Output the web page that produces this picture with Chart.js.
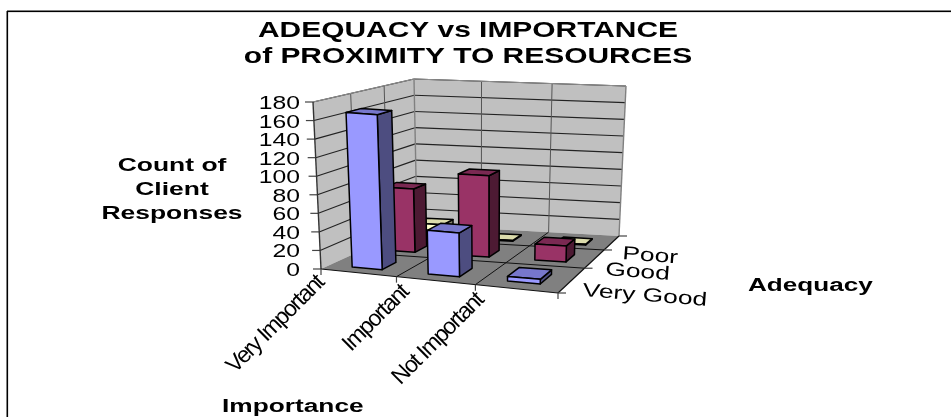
<!DOCTYPE html>
<html>
<head>
<meta charset="utf-8">
<style>
html,body{margin:0;padding:0;background:#fff;overflow:hidden}
#wrap{position:absolute;left:0;top:0;width:951px;height:417px}
</style>
<script src="https://cdn.jsdelivr.net/npm/chart.js@4"></script>
</head>
<body>
<div id="wrap"><canvas id="chart"></canvas></div>
<script>
// Survey counts: importance across the floor, adequacy going back into the chart.
const importance = ['Very Important', 'Important', 'Not Important'];
const adequacy = ['Very Good', 'Good', 'Poor'];
const veryGood = [168, 47, 5];
const good = [72, 92, 18];
const poor = [15, 1, 1];
const valueTicks = {min: 0, max: 180, step: 20};
const titleLines = ['ADEQUACY vs IMPORTANCE', 'of PROXIMITY TO RESOURCES'];
const valueTitle = ['Count of', 'Client', 'Responses'];
const importanceTitle = 'Importance';
const adequacyTitle = 'Adequacy';

const FONT = '"Liberation Sans", Arial, sans-serif';

// Screen positions of the box that holds the plot: floor corners and wall tops.
const corners = {
  floor: {fl: [321, 269], fr: [558, 293], bl: [417, 225], br: [619, 236]},
  roof:  {fl: [313, 102], fr: [560, 121], bl: [414, 79],  br: [626, 86]}
};
const mix = (a, b, t) => a + (b - a) * t;
const mix2 = (p, q, t) => [mix(p[0], q[0], t), mix(p[1], q[1], t)];
// Foreshortening along an axis: k is the near/far size ratio.
const warp = (t, k) => t <= 0 ? 0 : t >= 1 ? 1 : t / (t + k * (1 - t));

// Maps normalised plot coordinates (across, depth, height) to the canvas.
function project(u, v, w) {
  const tu = warp(u, 1.07);
  const tv = warp(v, mix(0.84, 0.65, u));
  const plane = c => mix2(mix2(c.fl, c.fr, tu), mix2(c.bl, c.br, tu), tv);
  return mix2(plane(corners.floor), plane(corners.roof), w);
}

function poly(ctx, pts, fill, stroke, lw) {
  ctx.beginPath();
  pts.forEach((p, i) => i ? ctx.lineTo(p[0], p[1]) : ctx.moveTo(p[0], p[1]));
  ctx.closePath();
  if (fill) { ctx.fillStyle = fill; ctx.fill(); }
  if (stroke) { ctx.strokeStyle = stroke; ctx.lineWidth = lw || 1; ctx.stroke(); }
}
function seg(ctx, a, b, color, lw) {
  ctx.beginPath();
  ctx.moveTo(a[0], a[1]);
  ctx.lineTo(b[0], b[1]);
  ctx.strokeStyle = color;
  ctx.lineWidth = lw || 1;
  ctx.stroke();
}
// Arial-style text widened horizontally, optionally rotated about its anchor.
function label(ctx, str, x, y, o) {
  ctx.save();
  ctx.translate(x, y);
  if (o.angle) ctx.rotate(o.angle * Math.PI / 180);
  ctx.scale(o.sx || 1, 1);
  ctx.font = (o.bold ? 'bold ' : '') + o.size + 'px ' + FONT;
  ctx.letterSpacing = (o.spacing || 0) + 'px';
  ctx.textAlign = o.align || 'left';
  ctx.textBaseline = 'alphabetic';
  ctx.fillStyle = '#000';
  ctx.fillText(str, 0, 0);
  ctx.restore();
}

// Offsets of the slanted importance labels from their ticks
const slantDx = [4, 13, 9];
const slantDy = [15, 17, 17];

// Walls, floor, grid, ticks and every caption around the plot.
const frame3d = {
  id: 'frame3d',
  beforeDatasetsDraw(chart) {
    const {ctx, scales: {x, y, z}} = chart;
    const U = v => (x.getPixelForValue(v) - x.left) / x.width;
    const V = v => (z.getPixelForValue(v) - z.left) / z.width;
    const W = v => (y.bottom - y.getPixelForValue(v)) / y.height;

    ctx.save();
    ctx.fillStyle = '#fff';
    ctx.fillRect(0, 0, chart.width, chart.height);

    // Outer frame of the chart object
    ctx.fillStyle = '#000';
    ctx.fillRect(7, 10.5, chart.width - 7, 1.6);
    ctx.fillRect(6.5, 11, 1.6, chart.height - 11);

    chart.options.plugins.title.text.forEach((t, i) =>
      label(ctx, t, 468, 37 + i * 26, {size: 22, bold: true, sx: 1.36, align: 'center'}));

    // Walls and floor
    poly(ctx, [project(0,0,0), project(0,0,1), project(0,1,1), project(0,1,0)], '#c0c0c0');
    poly(ctx, [project(0,1,0), project(0,1,1), project(1,1,1), project(1,1,0)], '#c0c0c0');
    poly(ctx, [project(0,0,0), project(1,0,0), project(1,1,0), project(0,1,0)], '#808080');

    // Horizontal value gridlines and axis ticks
    y.ticks.forEach(t => {
      const w = W(t.value);
      if (w > 0) {
        seg(ctx, project(0,0,w), project(0,1,w), '#222', 1.1);
        seg(ctx, project(0,1,w), project(1,1,w), '#222', 1.1);
      }
      const p = project(0,0,w);
      seg(ctx, p, [p[0] - 8, p[1]], '#444', 1.2);
      label(ctx, t.label, 300, p[1] + 7, {size: 19, sx: 1.3, align: 'right'});
    });

    // Gridlines at the category boundaries, on the floor and up the walls
    importance.forEach((_, i) => {
      if (i === 0) return;
      const u = U(i - 0.5);
      seg(ctx, project(u,0,0), project(u,1,0), '#111');
      seg(ctx, project(u,1,0), project(u,1,1), '#555');
    });
    adequacy.forEach((_, i) => {
      if (i === 0) return;
      const v = V(i - 0.5);
      seg(ctx, project(0,v,0), project(1,v,0), '#111');
      seg(ctx, project(0,v,0), project(0,v,1), '#555');
    });

    // Box edges
    seg(ctx, project(0,1,0), project(0,1,1), '#808080', 1.4);
    seg(ctx, project(1,1,0), project(1,1,1), '#808080', 1.4);
    seg(ctx, project(0,1,1), project(1,1,1), '#909090', 1.2);
    seg(ctx, project(0,0,1), project(0,1,1), '#909090', 1.2);
    seg(ctx, project(0,0,0), project(0,0,1), '#333', 1.4);
    seg(ctx, project(0,0,0), project(1,0,0), '#111', 1.2);
    seg(ctx, project(1,0,0), project(1,1,0), '#111', 1.2);

    // Importance ticks and slanted labels, set tight as on a squeezed axis
    x.ticks.forEach((t, i) => {
      const p = project(U(i - 0.5), 0, 0);
      seg(ctx, p, [p[0], p[1] + 6], '#444', 1.2);
      label(ctx, t.label, p[0] + slantDx[i], p[1] + slantDy[i], {size: 23, spacing: -1.6, angle: -45, align: 'right'});
    });
    seg(ctx, project(1,0,0), [project(1,0,0)[0], project(1,0,0)[1] + 6], '#444', 1.2);

    // Adequacy ticks and labels
    z.ticks.forEach((t, i) => {
      const p = project(1, V(i - 0.5), 0);
      seg(ctx, p, [p[0] + 8, p[1]], '#444', 1.2);
      const c = project(1, V(i), 0);
      label(ctx, t.label, c[0] + 10, c[1] + 16.5, {size: 19, sx: 1.39, angle: 4.5});
    });
    const back = project(1,1,0);
    seg(ctx, back, [back[0] + 8, back[1]], '#444', 1.2);

    // Axis titles
    valueTitle.forEach((t, i) =>
      label(ctx, t, 172, 171 + i * 24, {size: 18, bold: true, sx: 1.47, align: 'center'}));
    label(ctx, importanceTitle, 222, 412, {size: 18, bold: true, sx: 1.46});
    label(ctx, adequacyTitle, 748, 291, {size: 18, bold: true, sx: 1.45});

    // Bars, back row first so nearer rows overlap them
    const half = 0.4 / adequacy.length / 2;
    const nudge = -0.02;
    for (let d = chart.data.datasets.length - 1; d >= 0; d--) {
      const ds = chart.data.datasets[d];
      const meta = chart.getDatasetMeta(d);
      const zc = V(d) + nudge;
      const v0 = zc - half, v1 = zc + half;
      meta.data.forEach(bar => {
        const u0 = (bar.x - bar.width / 2 - x.left) / x.width;
        const u1 = (bar.x + bar.width / 2 - x.left) / x.width;
        const h = (bar.base - bar.y) / y.height;
        const A = project(u0,v0,0), B = project(u1,v0,0), C = project(u1,v1,0);
        const D = project(u0,v0,h), E = project(u1,v0,h), F = project(u1,v1,h), G = project(u0,v1,h);
        ctx.lineJoin = 'round';
        poly(ctx, [B, C, F, E], ds.sideColor, '#000', 1.5);
        poly(ctx, [D, E, F, G], ds.topColor, '#000', 1.5);
        poly(ctx, [A, B, E, D], ds.backgroundColor, '#000', 1.5);
      });
    }
    ctx.restore();
    return false; // the flat bars themselves are replaced by the boxes above
  }
};

new Chart(document.getElementById('chart'), {
  type: 'bar',
  data: {
    labels: importance,
    datasets: [
      {label: adequacy[0], data: veryGood, backgroundColor: '#9999ff', topColor: '#7777cc', sideColor: '#4d4d80'},
      {label: adequacy[1], data: good, backgroundColor: '#993366', topColor: '#7a2952', sideColor: '#4d1a33'},
      {label: adequacy[2], data: poor, backgroundColor: '#ffffcc', topColor: '#dcdcac', sideColor: '#80806a'}
    ]
  },
  plugins: [frame3d],
  options: {
    responsive: true,
    maintainAspectRatio: false,
    animation: false,
    events: [],
    layout: {padding: 0},
    datasets: {bar: {grouped: false, categoryPercentage: 0.4, barPercentage: 1}},
    plugins: {
      legend: {display: false},
      tooltip: {enabled: false},
      title: {display: false, text: titleLines}
    },
    scales: {
      x: {type: 'category', display: false, offset: true, ticks: {autoSkip: false}},
      y: {type: 'linear', display: false, min: valueTicks.min, max: valueTicks.max,
          ticks: {stepSize: valueTicks.step, autoSkip: false}},
      z: {type: 'category', axis: 'x', display: false, labels: adequacy, offset: true, ticks: {autoSkip: false}}
    }
  }
});
</script>
</body>
</html>
